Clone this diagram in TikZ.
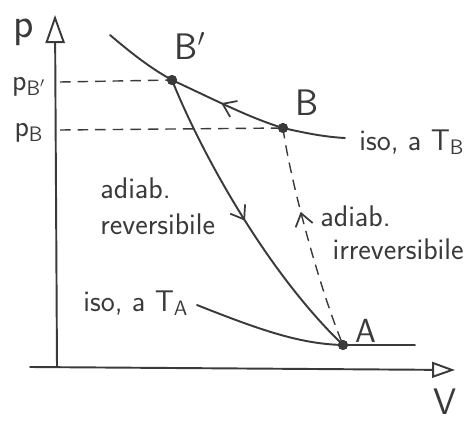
\documentclass[tikz,border=0pt]{standalone}
\usetikzlibrary{arrows.meta,decorations.markings}
\definecolor{ink}{HTML}{3A3A3A}
\begin{document}
\begin{tikzpicture}[x=0.02cm,y=-0.02cm,
  curve/.style={draw=ink, line width=1.1pt, line cap=round},
  guide/.style={draw=ink, line width=0.8pt, dash pattern=on 6pt off 4pt},
  dot/.style={circle, fill=ink, inner sep=0pt, minimum size=0.2cm},
  lbl/.style={text=ink, inner sep=0pt, font=\sffamily\fontsize{17}{20}\selectfont},
  big/.style={text=ink, inner sep=0pt, font=\sffamily\fontsize{21}{24}\selectfont},
  markfwd/.style={postaction={decorate}, decoration={markings, mark=at position #1 with {\arrow{Straight Barb[length=7pt,width=10pt,line width=1pt]}}}},
  markback/.style={postaction={decorate}, decoration={markings, mark=at position #1 with {\arrowreversed{Straight Barb[length=7pt,width=10pt,line width=1pt]}}}}
]
\useasboundingbox (0,0) rectangle (471,423);

% points
\coordinate (O) at (57,367);
\coordinate (ytip) at (55,15);
\coordinate (xstart) at (30,367);
\coordinate (xtip) at (455,370);
\coordinate (pBp) at (60,82);
\coordinate (pB) at (60,130);
\coordinate (tb0) at (110,35);
\coordinate (tb1) at (345,138);
\coordinate (ta0) at (197,305);
\coordinate (ta1) at (415,345);

\node[dot] (Bp) at (172,80) {};
\node[dot] (B) at (283,128) {};
\node[dot] (A) at (343,345) {};

% axes
\draw[curve, -{Triangle[open,length=16pt,width=11pt,line width=1.1pt]}] (O) -- (ytip);
\draw[curve, -{Triangle[open,length=13pt,width=9pt,line width=1.1pt]}] (xstart) -- (xtip);

% dashed guides
\draw[guide] (pBp) -- (Bp.center);
\draw[guide] (pB) -- (B.center);

% isotherm T_B
\draw[curve] (tb0) .. controls (130,52) and (150,68) .. (Bp.center);
\draw[curve, markback=0.45] (Bp.center) .. controls (215,100) and (250,118) .. (B.center);
\draw[curve] (B.center) .. controls (305,133) and (325,137) .. (tb1);

% isotherm T_A
\draw[curve] (ta0) .. controls (260,330) and (300,344) .. (A.center) -- (ta1);

% reversible adiabatic
\draw[curve, markfwd=0.5] (Bp.center) .. controls (200,150) and (265,270) .. (A.center);

% irreversible adiabatic
\draw[guide, markback=0.38] (B.center) .. controls (290,180) and (320,290) .. (A.center);

% dots on top
\fill[ink] (Bp) circle (0.1cm);
\fill[ink] (B) circle (0.1cm);
\fill[ink] (A) circle (0.1cm);

% labels
\node[text=ink, inner sep=0pt, font=\sffamily\fontsize{24}{26}\selectfont] (p) at (24,32) {p};
\node[big] (V) at (445,402) {V};
\node[lbl] (lpBp) at (29,87) {p\textsubscript{B$'$}};
\node[lbl] (lpB) at (29,133) {p\textsubscript{B}};
\node[big] (lBp) at (190,46) {B$'$};
\node[big] (lB) at (307,103) {B};
\node[lbl, font=\sffamily\fontsize{19}{20}\selectfont] (lA) at (366,331) {A};
\node[lbl, anchor=base west] (isoB) at (359,150) {iso, a T\textsubscript{B}};
\node[lbl, anchor=base west] (isoA) at (83,311) {iso, a T\textsubscript{A}};
\node[lbl, anchor=base west] (rev1) at (100,198) {adiab.};
\node[lbl, anchor=base west] (rev2) at (100,234) {reversibile};
\node[lbl, anchor=north west, align=left, font=\sffamily\fontsize{17}{19}\selectfont] (irr) at (320,205) {adiab.\\\hspace*{7pt}irreversibile};
\end{tikzpicture}
\end{document}
